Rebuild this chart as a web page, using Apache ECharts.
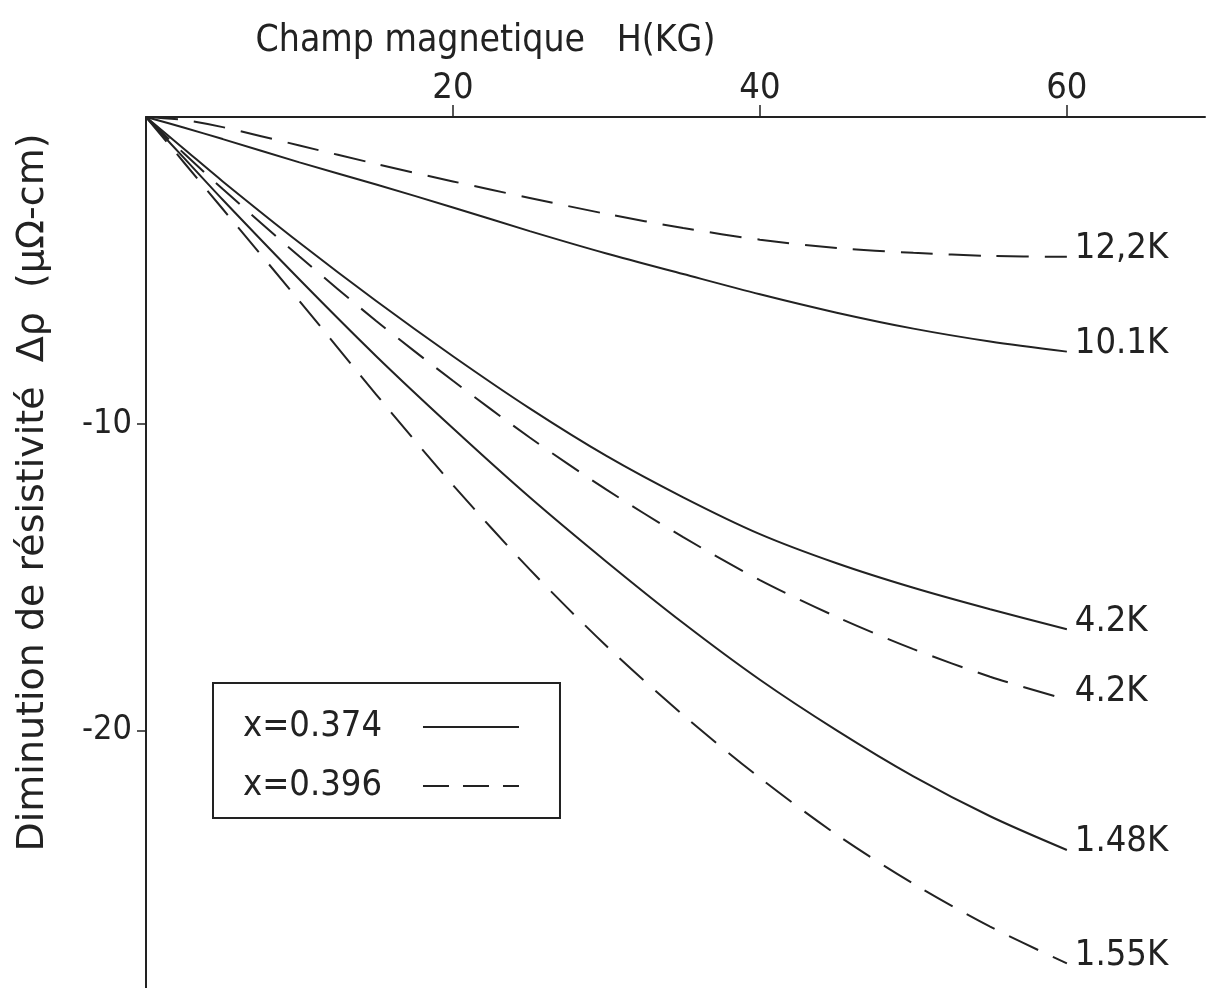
<!DOCTYPE html>
<html>
<head>
<meta charset="utf-8">
<script src="https://cdn.jsdelivr.net/npm/echarts@6/dist/echarts.min.js"></script>
<style>
html,body{margin:0;padding:0;background:#fff;}
#chart{width:1210px;height:988px;}
</style>
</head>
<body>
<div id="chart"></div>
<script>
// Magnetic field H (kG)
var fieldH = [0, 2.5, 5, 10, 15, 20, 25, 30, 35, 40, 45, 50, 55, 60];
// Resistivity decrease (µΩ-cm), x = 0.396 (dashed)
var rho_x396_12_2K = [0, -0.1, -0.33, -0.93, -1.53, -2.1, -2.64, -3.16, -3.62, -4.0, -4.27, -4.43, -4.53, -4.56];
var rho_x396_4_2K  = [0, -1.2, -2.35, -4.55, -6.65, -8.6, -10.45, -12.15, -13.7, -15.1, -16.3, -17.35, -18.25, -19.0];
var rho_x396_1_55K = [0, -1.5, -3.0, -6.0, -9.05, -12.0, -14.75, -17.25, -19.5, -21.55, -23.4, -25.0, -26.4, -27.6];
// x = 0.374 (solid)
var rho_x374_10_1K = [0, -0.35, -0.72, -1.48, -2.2, -2.95, -3.72, -4.45, -5.12, -5.78, -6.38, -6.9, -7.32, -7.65];
var rho_x374_4_2K  = [0, -1.05, -2.1, -4.1, -6.0, -7.8, -9.5, -11.05, -12.4, -13.6, -14.55, -15.35, -16.05, -16.7];
var rho_x374_1_48K = [0, -1.35, -2.7, -5.3, -7.8, -10.15, -12.4, -14.5, -16.5, -18.35, -20.0, -21.5, -22.8, -23.9];

var curveLabels = ['12,2K', '10.1K', '4.2K', '4.2K', '1.48K', '1.55K'];
var legendNames = ['x=0.374', 'x=0.396'];
var xTickValues = [20, 40, 60];
var yTickValues = [-10, -20];

var FONT = "'DejaVu Sans Condensed', 'DejaVu Sans', sans-serif";
var FONT_WIDE = "'DejaVu Sans', sans-serif";
var INK = '#222';

function pairs(v) { return fieldH.map(function (h, i) { return [h, v[i]]; }); }

var curves = [
  { label: curveLabels[0], values: rho_x396_12_2K, dashed: true },
  { label: curveLabels[1], values: rho_x374_10_1K, dashed: false },
  { label: curveLabels[2], values: rho_x374_4_2K, dashed: false },
  { label: curveLabels[3], values: rho_x396_4_2K, dashed: true },
  { label: curveLabels[4], values: rho_x374_1_48K, dashed: false },
  { label: curveLabels[5], values: rho_x396_1_55K, dashed: true }
];

var series = curves.map(function (c) {
  return {
    type: 'line',
    name: c.label,
    data: pairs(c.values),
    smooth: 0.3,
    symbol: 'none',
    silent: true,
    lineStyle: { color: INK, width: 2, type: c.dashed ? [32, 16] : 'solid' },
    endLabel: {
      show: true, formatter: '{a}', color: INK, fontFamily: FONT, fontSize: 36,
      distance: 8, offset: [0, -8]
    }
  };
});
series.push({ type: 'line', name: legendNames[0], data: [], symbol: 'none',
  itemStyle: { color: INK },
  lineStyle: { color: INK, width: 2, type: 'solid' } });
series.push({ type: 'line', name: legendNames[1], data: [], symbol: 'none',
  itemStyle: { color: INK },
  lineStyle: { color: INK, width: 2, type: [26, 14] } });

var chart = echarts.init(document.getElementById('chart'));
chart.setOption({
  animation: false,
  backgroundColor: '#fff',
  textStyle: { fontFamily: FONT, color: INK },
  grid: { left: 146, top: 117, right: 5, bottom: 0, containLabel: false },
  legend: {
    data: legendNames,
    orient: 'vertical',
    left: 213, top: 683,
    align: 'right',
    itemWidth: 96, itemHeight: 20, itemGap: 23,
    itemStyle: { opacity: 0 },
    borderColor: INK, borderWidth: 2, borderRadius: 0,
    padding: [26, 40, 14, 30],
    selectedMode: false,
    textStyle: { fontSize: 36, fontFamily: FONT, color: INK, padding: [0, 36, 0, 0] }
  },
  xAxis: {
    type: 'value', position: 'top', min: 0, max: 69,
    name: 'Champ magnetique   H(KG)',
    nameLocation: 'middle', nameGap: 57,
    nameTextStyle: { fontSize: 37, fontFamily: FONT, color: INK, padding: [0, 380, 0, 0] },
    axisLine: { show: true, onZero: false, lineStyle: { color: INK, width: 2 } },
    axisTick: { show: true, customValues: xTickValues, length: 12, lineStyle: { color: INK, width: 1.5 } },
    axisLabel: { customValues: xTickValues, fontSize: 36, color: INK, margin: 10 },
    splitLine: { show: false }
  },
  yAxis: {
    type: 'value', min: -28.4, max: 0,
    name: 'Diminution de résistivité  Δρ  (μΩ-cm)',
    nameLocation: 'middle', nameRotate: 90, nameGap: 94,
    nameTextStyle: { fontSize: 38, fontFamily: FONT_WIDE, color: INK, padding: [0, 0, 0, 120] },
    axisLine: { show: true, onZero: false, lineStyle: { color: INK, width: 2 } },
    axisTick: { show: true, customValues: yTickValues, length: 9, lineStyle: { color: INK, width: 1.5 } },
    axisLabel: { customValues: yTickValues, fontSize: 34, color: INK, margin: 14 },
    splitLine: { show: false }
  },
  series: series
});
</script>
</body>
</html>
